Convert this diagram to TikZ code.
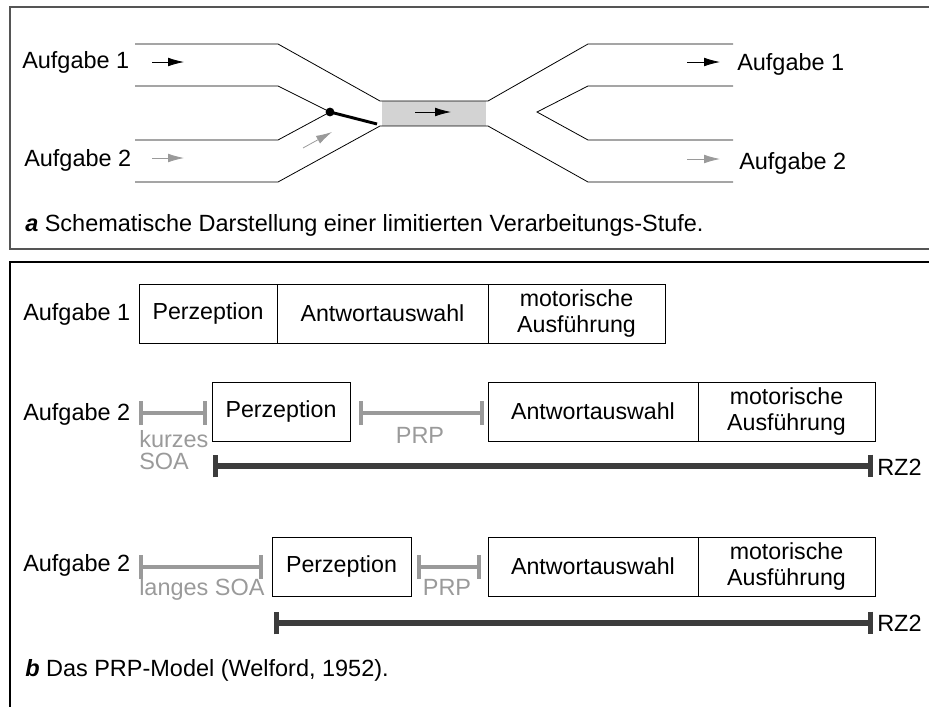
\documentclass[tikz,border=0pt]{standalone}
\usepackage{fontspec}
\setmainfont{Liberation Sans}
\usetikzlibrary{arrows.meta}
\usetikzlibrary{positioning}

\definecolor{softgray}{HTML}{9A9A9A}
\definecolor{bargray}{HTML}{3C3C3C}
\definecolor{framegray}{HTML}{555555}
\definecolor{channelfill}{HTML}{D3D3D3}

\tikzset{
  label/.style={font=\fontsize{17.6}{20}\selectfont, inner sep=0pt, anchor=base west},
  stage/.style={draw, line width=0.6pt, align=center, minimum height=44.25pt,
    inner sep=0pt, outer sep=0pt, font=\fontsize{17.4}{20}\selectfont},
  flow/.style={line width=0.6pt, -{Latex[length=12pt,width=6.5pt]}},
  soabar/.style={draw=softgray, line width=3.2pt, arrows={Bar[width=18pt]-Bar[width=18pt]}},
  rzbar/.style={draw=bargray, line width=4pt, arrows={Bar[width=17pt]-Bar[width=17pt]}},
}

\begin{document}
\begin{tikzpicture}[x=0.75pt, y=-0.75pt]
        \useasboundingbox (0,0) rectangle (929,707);

        % Frames
        \draw[framegray, line width=0.8pt] (929,7) -- (10,7) -- (10,249) -- (929,249);
        \draw[black, line width=0.8pt] (929,262) -- (10,262) -- (10,707);

        % Bottleneck
        \fill[channelfill] (382,101) rectangle (486,126);
        \draw[line width=0.6pt] (135,44) -- (278,44) -- (380,101) -- (488,101) -- (588,44) -- (733,44);
        \draw[line width=0.6pt] (135,182) -- (278,182) -- (380,126) -- (488,126) -- (588,182) -- (733,182);
        \draw[line width=0.6pt] (135,86) -- (278,86) -- (330,112) -- (278,140) -- (135,140);
        \draw[line width=0.6pt] (733,86) -- (588,86) -- (537,112) -- (588,140) -- (733,140);

        % Switch
        \draw[line width=2.2pt] (330,112) -- (377,124);
        \fill (330,112) circle (3.3pt);

        % Flow arrows
        \draw[flow] (152,62) -- (184,62);
        \draw[flow, softgray] (152,158) -- (184,158);
        \draw[flow, softgray] (303,148) -- (332,132);
        \draw[flow] (415,112) -- (451,112);
        \draw[flow] (687,62) -- (720,62);
        \draw[flow, softgray] (687,159) -- (720,159);

        \node[label] (ta1) at (22,68) {Aufgabe 1};
        \node[label] (ta2) at (24,166) {Aufgabe 2};
        \node[label] (tb1) at (737,70) {Aufgabe 1};
        \node[label] (tb2) at (739,169) {Aufgabe 2};
        \node[label] (capa) at (25,231) {\textbf{\textit{a}} Schematische Darstellung einer limitierten Verarbeitungs-Stufe.};

        % Task 1
        \node[label] (task1) at (23,320.5) {Aufgabe 1};
        \node[stage, minimum width=103.5pt] (perc1) at (208,313.5) {Perzeption};
        \node[stage, minimum width=158.25pt, right=0pt of perc1] (sel1) {Antwortauswahl};
        \node[stage, minimum width=132.75pt, right=0pt of sel1] (mot1) {motorische\\Ausführung};

        % Task 2, short SOA
        \node[label] (task2) at (23,420) {Aufgabe 2};
        \node[stage, minimum width=103.5pt] (perc2) at (281,411.5) {Perzeption};
        \node[stage, minimum width=157.5pt] (sel2) at (593,411.5) {Antwortauswahl};
        \node[stage, minimum width=132.75pt, right=0pt of sel2] (mot2) {motorische\\Ausführung};
        \coordinate (soa2a) at (139,413);
        \coordinate (soa2b) at (207,413);
        \coordinate (prp2a) at (359,413);
        \coordinate (prp2b) at (484,413);
        \coordinate (rz2a) at (213,466);
        \coordinate (rz2b) at (873,466);
        \draw[soabar] (soa2a) -- (soa2b);
        \draw[soabar] (prp2a) -- (prp2b);
        \draw[rzbar] (rz2a) -- (rz2b);
        \node[label, softgray, align=left, font=\fontsize{17.6}{16.5}\selectfont] (short) at (139,469) {kurzes\\SOA};
        \node[label, softgray, anchor=base] (prp2) at (420,443) {PRP};
        \node[label] (rt2) at (877,475) {RZ2};

        % Task 2, long SOA
        \node[label] (task3) at (23,571.5) {Aufgabe 2};
        \node[stage, minimum width=104.25pt] (perc3) at (341.5,566.5) {Perzeption};
        \node[stage, minimum width=157.5pt] (sel3) at (593,566.5) {Antwortauswahl};
        \node[stage, minimum width=132.75pt, right=0pt of sel3] (mot3) {motorische\\Ausführung};
        \coordinate (soa3a) at (139,567);
        \coordinate (soa3b) at (263,567);
        \coordinate (prp3a) at (417,567);
        \coordinate (prp3b) at (481,567);
        \coordinate (rz3a) at (274,623);
        \coordinate (rz3b) at (873,623);
        \draw[soabar] (soa3a) -- (soa3b);
        \draw[soabar] (prp3a) -- (prp3b);
        \draw[rzbar] (rz3a) -- (rz3b);
        \node[label, softgray] (long) at (139,595) {langes SOA};
        \node[label, softgray, anchor=base] (prp3) at (447,595) {PRP};
        \node[label] (rt3) at (877,631.5) {RZ2};

        \node[label] (capb) at (25,676.5) {\textbf{\textit{b}} Das PRP-Model (Welford, 1952).};
      \end{tikzpicture}
\end{document}
